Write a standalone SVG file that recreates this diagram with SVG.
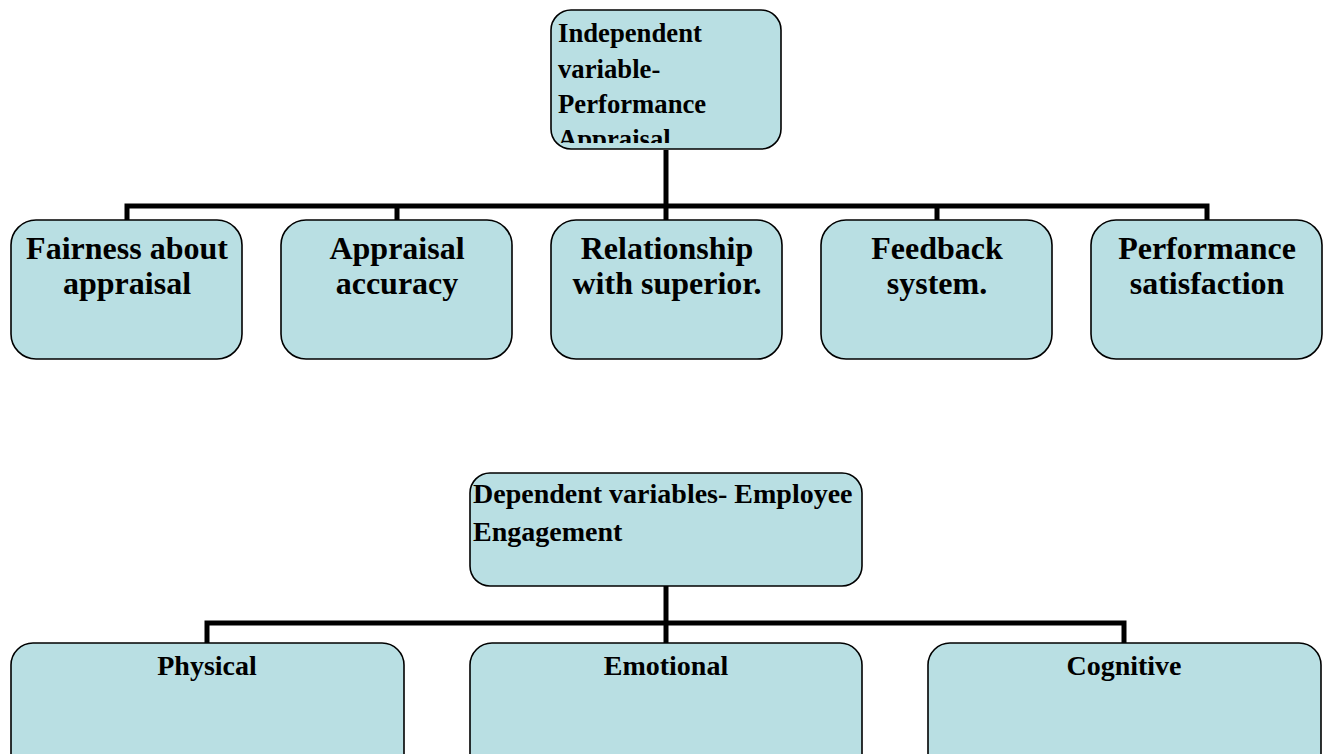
<svg xmlns="http://www.w3.org/2000/svg" width="1330" height="754" viewBox="0 0 1330 754">
  <style>
    .box { fill: #B9DFE3; stroke: #000; stroke-width: 1.6; }
    .conn { fill: none; stroke: #000; stroke-width: 5; stroke-linecap: butt; stroke-linejoin: miter; }
    .t { font-family: "Liberation Serif", "Times New Roman", serif; font-weight: bold; fill: #000; }
    .l2 { font-size: 32px; text-anchor: middle; }
    .l1 { font-size: 26.7px; }
    .ld { font-size: 28px; }
    .l3 { font-size: 28px; text-anchor: middle; }
  </style>
  <defs>
    <clipPath id="clipTop">
      <rect x="551" y="10" width="230" height="133"/>
    </clipPath>
  </defs>
  <rect width="1330" height="754" fill="#fff"/>

  <g id="connectors">
    <path class="conn" d="M666 150 V220"/>
    <path class="conn" d="M127 220 V206 H1207 V220"/>
    <path class="conn" d="M397 206 V220"/>
    <path class="conn" d="M937 206 V220"/>
    <path class="conn" d="M666 586 V643"/>
    <path class="conn" d="M207 643 V623 H1124 V643"/>
  </g>

  <g id="node-independent">
    <rect class="box" x="551" y="10" width="230" height="139" rx="20"/>
    <g clip-path="url(#clipTop)">
      <text class="t l1" x="558" y="42">Independent</text>
      <text class="t l1" x="558" y="78">variable-</text>
      <text class="t l1" x="558" y="113">Performance</text>
      <text class="t l1" x="558" y="148">Appraisal</text>
    </g>
  </g>

  <g id="node-fairness">
    <rect class="box" x="11" y="220" width="231" height="139" rx="25"/>
    <text class="t l2" x="127" y="259">Fairness about</text>
    <text class="t l2" x="127" y="294">appraisal</text>
  </g>
  <g id="node-accuracy">
    <rect class="box" x="281" y="220" width="231" height="139" rx="25"/>
    <text class="t l2" x="397" y="259">Appraisal</text>
    <text class="t l2" x="397" y="294">accuracy</text>
  </g>
  <g id="node-relationship">
    <rect class="box" x="551" y="220" width="231" height="139" rx="25"/>
    <text class="t l2" x="667" y="259">Relationship</text>
    <text class="t l2" x="667" y="294">with superior.</text>
  </g>
  <g id="node-feedback">
    <rect class="box" x="821" y="220" width="231" height="139" rx="25"/>
    <text class="t l2" x="937" y="259">Feedback</text>
    <text class="t l2" x="937" y="294">system.</text>
  </g>
  <g id="node-satisfaction">
    <rect class="box" x="1091" y="220" width="231" height="139" rx="25"/>
    <text class="t l2" x="1207" y="259">Performance</text>
    <text class="t l2" x="1207" y="294">satisfaction</text>
  </g>

  <g id="node-dependent">
    <rect class="box" x="470" y="473" width="392" height="113" rx="20"/>
    <text class="t ld" x="473" y="503">Dependent variables- Employee</text>
    <text class="t ld" x="473" y="541">Engagement</text>
  </g>

  <g id="node-physical">
    <rect class="box" x="11" y="643" width="393" height="140" rx="22"/>
    <text class="t l3" x="207" y="675">Physical</text>
  </g>
  <g id="node-emotional">
    <rect class="box" x="470" y="643" width="392" height="140" rx="22"/>
    <text class="t l3" x="666" y="675">Emotional</text>
  </g>
  <g id="node-cognitive">
    <rect class="box" x="928" y="643" width="393" height="140" rx="22"/>
    <text class="t l3" x="1124" y="675">Cognitive</text>
  </g>
</svg>
